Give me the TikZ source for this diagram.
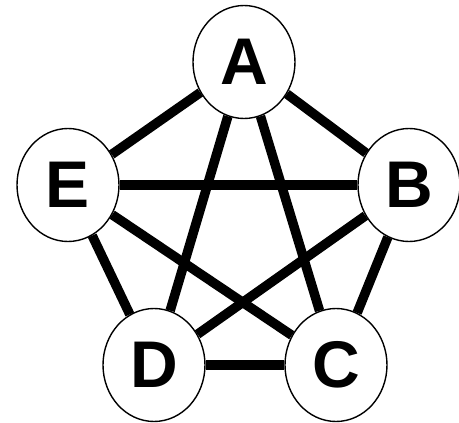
\documentclass[tikz,border=0pt]{standalone}
\usepackage{fontspec}
\setmainfont{Liberation Sans}
\usetikzlibrary{shapes.geometric}

\begin{document}
\begin{tikzpicture}[
    x=1pt, y=1pt,
    vert/.style={draw, ellipse, fill=white, line width=1.4pt, minimum width=102pt, minimum height=113pt, inner sep=0pt, font=\fontsize{66}{66}\selectfont\bfseries},
    link/.style={line width=9.5pt}
  ]
    \useasboundingbox (0,0) rectangle (459,423);
    \node[vert] (A) at (244,361) {A};
    \node[vert] (B) at (409,238) {B};
    \node[vert] (C) at (336,58) {C};
    \node[vert] (D) at (154,58) {D};
    \node[vert] (E) at (68,238) {E};
    \draw[link] (A) -- (B);
    \draw[link] (A) -- (C);
    \draw[link] (A) -- (D);
    \draw[link] (A) -- (E);
    \draw[link] (B) -- (C);
    \draw[link] (B) -- (D);
    \draw[link] (B) -- (E);
    \draw[link] (C) -- (D);
    \draw[link] (C) -- (E);
    \draw[link] (D) -- (E);
  \end{tikzpicture}
\end{document}
